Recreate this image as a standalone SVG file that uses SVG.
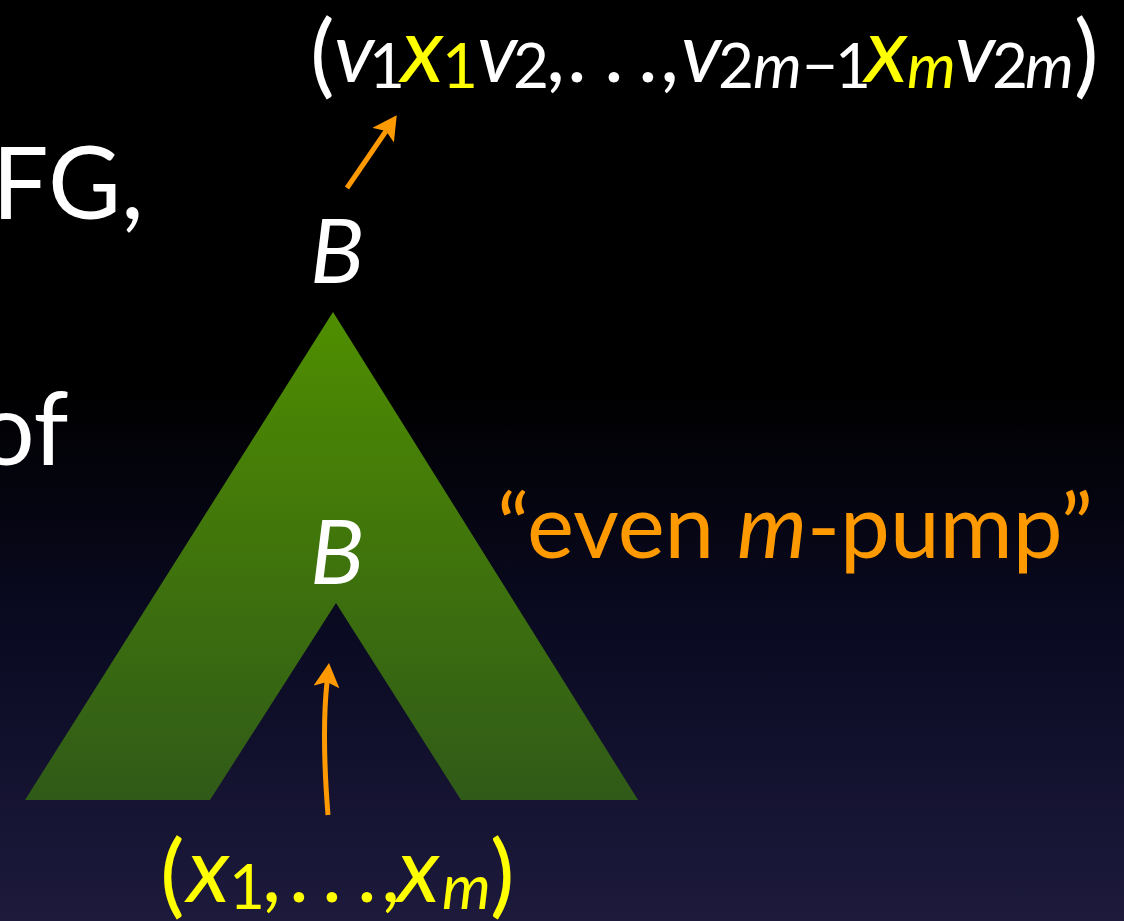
<svg xmlns="http://www.w3.org/2000/svg" width="1124" height="921" viewBox="0 0 1124 921">
<defs>
<linearGradient id="bg" x1="0" y1="0" x2="0" y2="1">
<stop offset="0" stop-color="#000000"/>
<stop offset="0.42" stop-color="#000000"/>
<stop offset="0.68" stop-color="#0a0a22"/>
<stop offset="1" stop-color="#1d1a3c"/>
</linearGradient>
<linearGradient id="tree" gradientUnits="userSpaceOnUse" x1="0" y1="312" x2="0" y2="800">
<stop offset="0" stop-color="#4f8e00"/>
<stop offset="1" stop-color="#305a18"/>
</linearGradient>
<marker id="ah" viewBox="0 0 24 26" refX="5" refY="13" markerWidth="24" markerHeight="26" markerUnits="userSpaceOnUse" orient="auto">
<path d="M0,0 L24,13 L0,26 L5,13 Z" fill="#ff9900"/>
</marker>
<style>
text{font-family:Lato,"Open Sans","Liberation Sans",sans-serif}
.w{fill:#ffffff}
.y{fill:#ffff00}
.o{fill:#ff9900}
.i{font-style:italic}
.big{font-size:84px}
.bx{font-size:92px}
.sub{font-size:62px}
.par{font-size:92px}
.conn{fill:none;stroke:#ff9900;stroke-width:5;marker-end:url(#ah)}
</style>
</defs>
<rect width="1124" height="921" fill="url(#bg)"/>
<g id="bg-text">
<text class="w" x="-8" y="219" font-size="100">FG,</text>
<text class="w" x="-22" y="465" font-size="100">of</text>
</g>
<g id="tree-node">
<path d="M333,312 L638,800 L461,800 L336,603 L210,800 L25,800 Z" fill="url(#tree)"/>
</g>
<g id="top-B">
<text class="w i" x="310" y="283" font-size="90">B</text>
</g>
<g id="mid-B">
<text class="w i" x="310" y="584" font-size="90">B</text>
</g>
<g id="top-label">
<text class="w big"><tspan class="par" x="310" y="86">(</tspan><tspan class="i" x="334" y="82">v</tspan><tspan class="sub" x="369" y="88">1</tspan><tspan class="i y bx" x="401" y="82">x</tspan><tspan class="sub y" x="442" y="88">1</tspan><tspan class="i" x="477" y="82">v</tspan><tspan class="sub" x="513" y="88">2</tspan><tspan x="546" y="82">,</tspan><tspan x="567" y="82">.</tspan><tspan x="604" y="82">.</tspan><tspan x="638" y="82">.</tspan><tspan x="660" y="82">,</tspan><tspan class="i" x="681" y="82">v</tspan><tspan class="sub" x="718" y="88">2</tspan><tspan class="sub i" x="753" y="88">m</tspan><tspan class="sub" x="802" y="88">−</tspan><tspan class="sub" x="835" y="88">1</tspan><tspan class="i y bx" x="865" y="82">x</tspan><tspan class="sub i y" x="907" y="88">m</tspan><tspan class="i" x="955" y="82">v</tspan><tspan class="sub" x="992" y="88">2</tspan><tspan class="sub i" x="1025" y="88">m</tspan><tspan class="par" x="1074" y="86">)</tspan></text>
</g>
<g id="bottom-label">
<text class="y big"><tspan class="par" x="160" y="906">(</tspan><tspan class="i bx" x="187" y="902">x</tspan><tspan class="sub" x="229" y="909">1</tspan><tspan x="262" y="902">,</tspan><tspan x="289" y="902">.</tspan><tspan x="322" y="902">.</tspan><tspan x="357" y="902">.</tspan><tspan x="381" y="902">,</tspan><tspan class="i bx" x="397" y="902">x</tspan><tspan class="sub i" x="442" y="909">m</tspan><tspan class="par" x="490" y="906">)</tspan></text>
</g>
<g id="pump-label">
<text class="o" x="497" y="558" font-size="89" textLength="596" lengthAdjust="spacingAndGlyphs">“even <tspan class="i">m</tspan>-pump”</text>
</g>
<g id="connectors">
<path class="conn" d="M347,188 L386,131"/>
<path class="conn" d="M328,815 C324,765 323,720 327,682"/>
</g>
</svg>
